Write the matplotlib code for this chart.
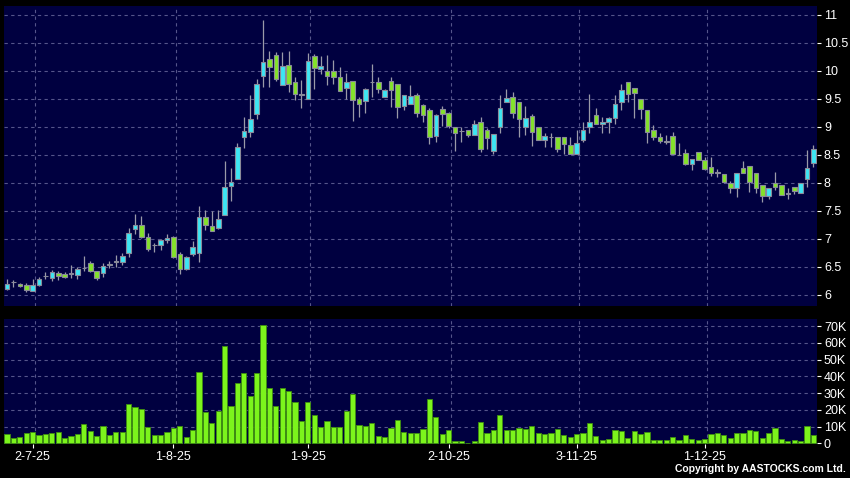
import numpy as np
import pandas as pd
import matplotlib
matplotlib.use("Agg")
import matplotlib.pyplot as plt
from matplotlib.ticker import FuncFormatter

# daily candles, 25 Jun 2025 - 24 Dec 2025 (HK trading days)
opens = [6.10, 6.22, 6.20, 6.17, 6.07, 6.17, 6.33, 6.30, 6.39, 6.37,
         6.37, 6.36, 6.47, 6.56, 6.42, 6.39, 6.53, 6.59, 6.59, 6.74,
         7.17, 7.25, 7.03, 6.88, 6.88, 6.97, 7.03, 6.73, 6.46, 6.72,
         6.75, 7.38, 7.22, 7.20, 7.42, 7.94, 8.06, 8.81, 8.91, 9.22,
         9.91, 10.21, 10.28, 9.75, 10.11, 9.79, 9.57, 9.50, 10.27, 10.03,
         10.00, 10.00, 9.88, 9.70, 9.81, 9.50, 9.46, 9.79, 9.79, 9.53,
         9.81, 9.77, 9.37, 9.40, 9.57, 9.38, 9.30, 8.84, 9.31, 9.24,
         9.00, 8.92, 8.94, 8.86, 9.09, 8.94, 8.57, 9.00, 9.44, 9.53,
         9.44, 8.99, 9.19, 9.00, 8.77, 8.81, 8.81, 8.81, 8.67, 8.52,
         8.77, 8.99, 9.21, 9.05, 9.09, 9.15, 9.44, 9.79, 9.70, 9.50,
         9.30, 8.95, 8.82, 8.73, 8.83, 8.49, 8.53, 8.34, 8.55, 8.41,
         8.29, 8.18, 8.15, 7.99, 7.90, 8.27, 8.30, 8.17, 7.96, 7.76,
         7.99, 7.96, 7.80, 7.92, 7.81, 8.06, 8.35]
closes = [6.20, 6.22, 6.16, 6.08, 6.17, 6.28, 6.33, 6.40, 6.34, 6.32,
          6.37, 6.46, 6.47, 6.42, 6.30, 6.51, 6.53, 6.59, 6.70, 7.11,
          7.25, 7.03, 6.81, 6.88, 6.97, 7.02, 6.68, 6.46, 6.67, 6.85,
          7.38, 7.24, 7.14, 7.35, 7.93, 8.02, 8.63, 8.92, 9.13, 9.77,
          10.15, 10.07, 9.86, 10.08, 9.77, 9.59, 9.57, 10.17, 10.04, 10.09,
          9.91, 9.89, 9.64, 9.79, 9.47, 9.40, 9.68, 9.79, 9.68, 9.66,
          9.66, 9.36, 9.56, 9.55, 9.24, 9.21, 8.82, 9.21, 9.22, 9.01,
          8.88, 8.92, 8.86, 9.05, 8.61, 8.79, 8.87, 9.34, 9.52, 9.25,
          9.13, 9.15, 8.91, 8.77, 8.83, 8.81, 8.61, 8.69, 8.52, 8.71,
          8.94, 9.09, 9.05, 9.09, 9.15, 9.40, 9.66, 9.59, 9.60, 9.31,
          8.90, 8.82, 8.74, 8.73, 8.52, 8.49, 8.34, 8.43, 8.41, 8.25,
          8.17, 8.18, 8.02, 7.90, 8.18, 8.17, 8.02, 7.90, 7.76, 7.90,
          7.93, 7.78, 7.80, 7.86, 7.99, 8.26, 8.61]
highs = [6.28, 6.27, 6.21, 6.21, 6.28, 6.31, 6.41, 6.44, 6.42, 6.41,
         6.53, 6.50, 6.69, 6.60, 6.43, 6.56, 6.60, 6.71, 6.75, 7.20,
         7.44, 7.41, 7.10, 6.92, 7.00, 7.09, 7.05, 6.76, 6.70, 6.96,
         7.58, 7.51, 7.50, 7.51, 8.39, 8.26, 8.71, 9.18, 9.56, 9.86,
         10.91, 10.36, 10.33, 10.33, 10.36, 9.88, 9.84, 10.32, 10.29, 10.27,
         10.28, 10.19, 10.07, 9.96, 9.81, 9.53, 9.70, 10.12, 9.88, 9.68,
         9.88, 9.77, 9.57, 9.74, 9.60, 9.41, 9.33, 9.22, 9.37, 9.27,
         9.00, 9.00, 8.94, 9.12, 9.18, 8.97, 8.87, 9.56, 9.68, 9.62,
         9.44, 9.37, 9.23, 9.00, 8.88, 8.88, 8.82, 8.82, 8.82, 8.94,
         9.09, 9.59, 9.33, 9.18, 9.18, 9.56, 9.77, 9.79, 9.70, 9.50,
         9.30, 9.03, 8.88, 8.85, 8.91, 8.71, 8.61, 8.43, 8.55, 8.46,
         8.46, 8.25, 8.16, 8.04, 8.18, 8.38, 8.30, 8.17, 7.96, 7.90,
         8.20, 7.96, 7.90, 7.92, 7.99, 8.58, 8.67]
lows = [6.09, 6.14, 6.14, 6.05, 6.06, 6.15, 6.28, 6.25, 6.27, 6.30,
        6.30, 6.29, 6.42, 6.40, 6.27, 6.32, 6.48, 6.50, 6.53, 6.68,
        7.09, 7.01, 6.78, 6.77, 6.80, 6.93, 6.65, 6.38, 6.45, 6.70,
        6.59, 7.16, 7.13, 7.18, 7.42, 7.68, 8.06, 8.62, 8.82, 9.13,
        9.71, 9.71, 9.82, 9.75, 9.62, 9.47, 9.34, 9.50, 9.68, 9.94,
        9.74, 9.77, 9.64, 9.50, 9.11, 9.18, 9.25, 9.53, 9.60, 9.53,
        9.36, 9.15, 9.30, 9.40, 9.18, 9.09, 8.69, 8.73, 9.01, 8.97,
        8.57, 8.73, 8.81, 8.86, 8.55, 8.61, 8.51, 8.88, 9.46, 9.15,
        8.81, 8.85, 8.66, 8.77, 8.64, 8.64, 8.55, 8.51, 8.52, 8.52,
        8.73, 8.89, 9.05, 8.88, 8.88, 9.05, 9.30, 9.44, 9.15, 9.13,
        8.71, 8.77, 8.71, 8.70, 8.52, 8.49, 8.31, 8.22, 8.41, 8.22,
        8.12, 8.10, 8.00, 7.81, 7.75, 8.17, 7.84, 7.82, 7.66, 7.71,
        7.87, 7.78, 7.71, 7.80, 7.81, 7.93, 8.29]
volumes = [5.6, 3.4, 3.8, 6.2, 7.0, 5.0, 5.6, 6.0, 6.8, 3.4,
           4.6, 5.8, 11.9, 7.4, 4.6, 10.5, 5.2, 6.6, 6.6, 23.3,
           21.7, 20.3, 10.1, 5.2, 5.2, 6.8, 9.1, 10.3, 4.0, 8.0,
           42.5, 18.7, 12.1, 19.1, 57.9, 22.3, 36.2, 42.3, 28.2, 42.3,
           70.4, 33.0, 22.5, 33.2, 31.4, 24.9, 13.3, 24.9, 16.7, 9.7,
           13.7, 9.7, 10.1, 19.3, 29.4, 10.9, 10.7, 12.3, 4.6, 3.6,
           9.5, 13.9, 6.8, 6.2, 6.2, 8.5, 26.7, 15.5, 5.6, 8.3,
           1.4, 1.4, 0.2, 1.2, 13.1, 6.4, 8.3, 17.1, 8.3, 7.8,
           9.5, 8.9, 10.3, 6.0, 5.4, 6.0, 8.5, 5.0, 3.6, 5.4,
           6.0, 12.1, 4.2, 2.0, 2.4, 8.3, 7.4, 3.4, 7.6, 5.8,
           6.8, 2.0, 2.0, 1.8, 4.0, 2.2, 5.2, 2.8, 2.2, 2.6,
           5.8, 6.4, 5.2, 3.4, 6.2, 6.2, 8.2, 7.4, 3.4, 6.0,
           9.1, 2.4, 1.6, 2.0, 1.4, 10.7, 5.2]  # thousands of shares

holidays = ['2025-07-01', '2025-10-01', '2025-10-07', '2025-10-29']
dates = pd.bdate_range('2025-06-25', '2025-12-24')
dates = dates[~dates.isin(pd.to_datetime(holidays))]

o = np.array(opens)
c = np.array(closes)
h = np.array(highs)
l = np.array(lows)
v = np.array(volumes) * 1000
x = np.arange(len(dates))

# first trading day of each month gets a label (skip the partial June)
month_first = ~pd.Series(dates.month).duplicated().values
tick_idx = [i for i in x[month_first] if dates[i].month != 6]
tick_lbl = [f"{dates[i].day}-{dates[i].month}-{dates[i].strftime('%y')}" for i in tick_idx]

navy = '#000040'
grid_c = '#55558a'
up_c = '#3de6f3'
dn_c = '#84e22a'
edge_c = '#8a8a9a'
plt.rcParams['font.family'] = ['Liberation Sans', 'DejaVu Sans']

fig = plt.figure(figsize=(8.5, 4.78), dpi=100, facecolor='black')
ax = fig.add_axes([4 / 850, 1 - 306 / 478, 813 / 850, 300 / 478])
axv = fig.add_axes([4 / 850, 1 - 444 / 478, 813 / 850, 125 / 478])

for a in (ax, axv):
    a.set_facecolor(navy)
    for s in a.spines.values():
        s.set_visible(False)
    a.set_xlim(-0.47, 126.56)
    a.yaxis.tick_right()
    a.tick_params(axis='y', colors='white', labelsize=9, length=3, pad=2)
    a.grid(False)
    for t in tick_idx:
        a.axvline(t + 0.4, color=grid_c, lw=0.8, ls=(0, (3, 3)), zorder=0)

# price panel
ax.set_ylim(5.80, 11.155)
yt = np.arange(6, 11.01, 0.5)
ax.set_yticks(yt)
ax.yaxis.set_major_formatter(FuncFormatter(lambda val, pos: f"{val:g}"))
for t in yt:
    ax.axhline(t, color=grid_c, lw=0.8, ls=(0, (3, 3)), zorder=0)
ax.set_xticks([])

up = c >= o
cols = np.where(up, up_c, dn_c)
ax.vlines(x, l, h, color='#9a9aa8', lw=0.9, zorder=2)
body_h = np.maximum(np.abs(c - o), 0.012)
ax.bar(x, body_h, bottom=np.minimum(o, c), width=0.72, color=cols,
       edgecolor=edge_c, linewidth=0.8, zorder=3)

# volume panel
axv.set_ylim(-300, 74200)
vt = np.arange(0, 70001, 10000)
axv.set_yticks(vt)
axv.yaxis.set_major_formatter(FuncFormatter(lambda val, pos: '0' if val == 0 else f"{val / 1000:g}K"))
for t in vt[1:]:
    axv.axhline(t, color=grid_c, lw=0.8, ls=(0, (3, 3)), zorder=0)
axv.bar(x, v, width=0.8, color='#7cf41c', edgecolor='#3f8f10', linewidth=0.6, zorder=3)
axv.set_xticks(tick_idx)
axv.set_xticklabels(tick_lbl)
axv.tick_params(axis='x', colors='white', labelsize=9, length=3, pad=2)

fig.text(0.995, 0.008, 'Copyright by AASTOCKS.com Ltd.', ha='right', va='bottom',
         color='white', fontsize=7.5, fontweight='bold')

fig.savefig('out.png', dpi=100, facecolor='black')
